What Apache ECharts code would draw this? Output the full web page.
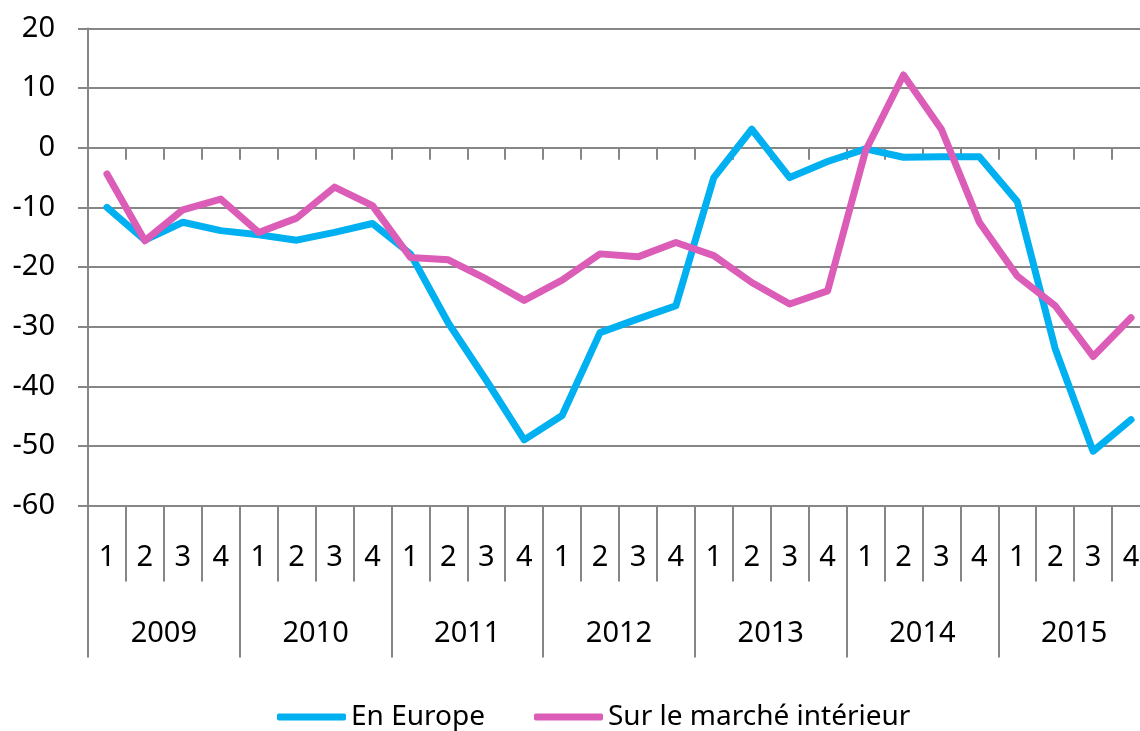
<!DOCTYPE html>
<html>
<head>
<meta charset="utf-8">
<script src="https://cdn.jsdelivr.net/npm/echarts@6/dist/echarts.min.js"></script>
<style>
html,body{margin:0;padding:0;background:#fff;}
#chart{width:1140px;height:731px;}
</style>
</head>
<body>
<div id="chart"></div>
<script>
const quarters = ['1','2','3','4','1','2','3','4','1','2','3','4','1','2','3','4','1','2','3','4','1','2','3','4','1','2','3','4'];
const years = ['2009','2010','2011','2012','2013','2014','2015'];
const yTicks = { min: -60, max: 20, interval: 10 };
const seriesNames = ['En Europe', 'Sur le marché intérieur'];
const enEurope = [-10.0, -15.5, -12.5, -13.9, -14.6, -15.5, -14.2, -12.7, -17.8, -29.4, -39.0, -49.0, -44.9, -31.0, -28.7, -26.5, -5.0, 3.1, -5.0, -2.3, -0.2, -1.6, -1.5, -1.5, -9.0, -33.7, -50.9, -45.6];
const marcheInterieur = [-4.4, -15.6, -10.4, -8.6, -14.2, -11.8, -6.6, -9.7, -18.4, -18.8, -22.0, -25.6, -22.2, -17.8, -18.3, -15.9, -18.1, -22.6, -26.2, -24.0, -0.5, 12.2, 3.1, -12.5, -21.5, -26.5, -35.0, -28.5];

const gray = '#868686';
const font = 'Noto Sans';
const chart = echarts.init(document.getElementById('chart'), null, { renderer: 'canvas' });
chart.setOption({
  animation: false,
  backgroundColor: '#fff',
  grid: { left: 88, top: 28.5, height: 477, right: -10, containLabel: false, outerBoundsMode: 'none' },
  legend: {
    left: 272, top: 698,
    itemWidth: 69, itemHeight: 7, itemGap: 49,
    icon: 'roundRect',
    textStyle: { fontFamily: font, fontSize: 28, color: '#000' },
    data: seriesNames
  },
  xAxis: [
    {
      type: 'category', data: quarters, position: 'bottom', boundaryGap: true,
      axisLine: { show: true, onZero: true, lineStyle: { color: gray, width: 2 } },
      axisTick: { show: true, inside: false, length: 12, interval: 0, lineStyle: { color: gray, width: 2 } },
      axisLabel: { show: false }, splitLine: { show: false }
    },
    {
      type: 'category', data: quarters, position: 'bottom', boundaryGap: true,
      axisLine: { show: true, onZero: false, lineStyle: { color: gray, width: 2 } },
      axisTick: { show: true, inside: false, length: 76, interval: 0, lineStyle: { color: gray, width: 2 } },
      axisLabel: { show: true, interval: 0, margin: 38, fontFamily: font, fontSize: 29, color: '#000' },
      splitLine: { show: false }
    },
    {
      type: 'category', data: years, position: 'bottom', boundaryGap: true,
      axisLine: { show: false, onZero: false },
      axisTick: { show: true, inside: false, length: 152, interval: 0, lineStyle: { color: gray, width: 2 } },
      axisLabel: { show: true, interval: 0, margin: 114, fontFamily: font, fontSize: 29, color: '#000' },
      splitLine: { show: false }
    }
  ],
  yAxis: {
    type: 'value', min: yTicks.min, max: yTicks.max, interval: yTicks.interval,
    axisLine: { show: true, lineStyle: { color: gray, width: 2 } },
    axisTick: { show: true, inside: false, length: 10, lineStyle: { color: gray, width: 2 } },
    axisLabel: { margin: 33, fontFamily: font, fontSize: 29, color: '#000' },
    splitLine: { show: true, lineStyle: { color: gray, width: 2 } }
  },
  series: [
    {
      name: seriesNames[0], type: 'line', xAxisIndex: 1, data: enEurope,
      showSymbol: false, symbol: 'none', smooth: false,
      color: '#00B0F0',
      lineStyle: { color: '#00B0F0', width: 7, cap: 'round', join: 'round' }
    },
    {
      name: seriesNames[1], type: 'line', xAxisIndex: 1, data: marcheInterieur,
      showSymbol: false, symbol: 'none', smooth: false,
      color: '#DB5DB8',
      lineStyle: { color: '#DB5DB8', width: 7, cap: 'round', join: 'round' }
    }
  ]
});
</script>
</body>
</html>
